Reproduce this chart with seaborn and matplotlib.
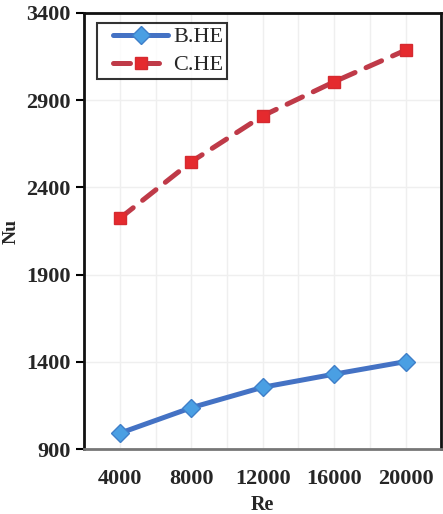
import matplotlib.pyplot as plt
import numpy as np
import pandas as pd
import seaborn as sns
from matplotlib.legend_handler import HandlerLine2D
from matplotlib.lines import Line2D

re_vals = [4000, 8000, 12000, 16000, 20000]
nu_bhe = [992, 1138, 1255, 1330, 1402]
nu_che = [2223, 2547, 2810, 3005, 3186]
y_ticks = [900, 1400, 1900, 2400, 2900, 3400]

df = pd.DataFrame({'Re': re_vals + re_vals,
                   'Nu': nu_bhe + nu_che,
                   'case': ['B.HE'] * 5 + ['C.HE'] * 5})

sns.set_style('white')
plt.rcParams['font.family'] = ['Liberation Serif', 'DejaVu Serif']

fig = plt.figure(figsize=(4.43, 5.14), dpi=100)
ax = fig.add_axes([0.19, 0.126, 0.806, 0.849])

sns.lineplot(data=df[df['case'] == 'B.HE'], x='Re', y='Nu', ax=ax,
             color='#4472c4', linewidth=3.6, marker='D', markersize=9,
             markerfacecolor='#4a9fe3', markeredgecolor='#3f7fc9',
             markeredgewidth=1, label='B.HE', solid_capstyle='round')
sns.lineplot(data=df[df['case'] == 'C.HE'], x='Re', y='Nu', ax=ax,
             color='#bf3a48', linewidth=3.6, marker='s', markersize=8.5,
             markerfacecolor='#e52a2e', markeredgecolor='#d52a30',
             markeredgewidth=1, label='C.HE', dashes=(3.4, 2.4),
             dash_capstyle='round')

ax.set_xlim(2000, 22000)
ax.set_ylim(900, 3400)
ax.set_xticks(re_vals)
ax.set_xticks(np.arange(6000, 20000, 4000), minor=True)
ax.set_yticks(y_ticks)
ax.grid(True, which='both', axis='x', color='#efefef', linewidth=1)
ax.grid(True, which='major', axis='y', color='#efefef', linewidth=1)
ax.set_axisbelow(True)

ax.tick_params(axis='x', which='both', length=0, pad=14)
ax.tick_params(axis='y', length=6, width=1.5, color='black', direction='out', pad=4, left=True)
for lbl in ax.get_xticklabels() + ax.get_yticklabels():
    lbl.set_fontsize(16)
    lbl.set_fontweight('bold')

for side in ['left', 'top', 'right']:
    ax.spines[side].set_color('#111111')
    ax.spines[side].set_linewidth(2)
ax.spines['bottom'].set_color('#777777')
ax.spines['bottom'].set_linewidth(2)

ax.set_xlabel('Re', fontsize=14.5, fontweight='bold', va='center')
ax.set_ylabel('Nu', fontsize=14, fontweight='bold', va='center')
ax.xaxis.set_label_coords(0.5, -0.127)
ax.yaxis.set_label_coords(-0.205, 0.5)

leg = ax.legend(loc='upper left', bbox_to_anchor=(0.0364, 0.9764), fontsize=16,
                frameon=True, fancybox=False, edgecolor='black',
                handlelength=3.03, borderpad=0.17, labelspacing=0.33,
                handletextpad=0.22, borderaxespad=0,
                handler_map={Line2D: HandlerLine2D(xpad=0.55)})
leg.get_frame().set_linewidth(1.5)

fig.savefig('out.png', dpi=100)
